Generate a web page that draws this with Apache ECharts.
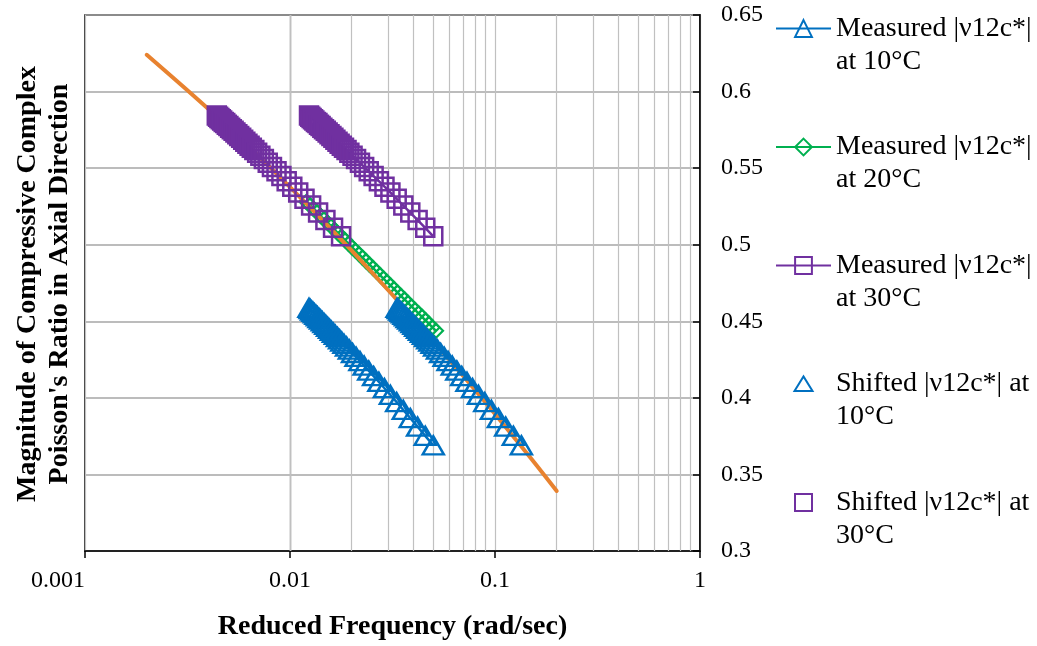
<!DOCTYPE html>
<html>
<head>
<meta charset="utf-8">
<script src="https://cdn.jsdelivr.net/npm/echarts@6/dist/echarts.min.js"></script>
<style>
html,body{margin:0;padding:0;background:#fff;}
#chart{width:1037px;height:646px;}
</style>
</head>
<body>
<div id="chart"></div>
<script>
// ---- data ----
const freqMeasured = [0.01238,0.01256,0.01275,0.01295,0.01315,0.01338,0.01361,0.01385,0.01410,0.01438,0.01465,0.01495,0.01526,0.01559,0.01592,0.01628,0.01665,0.01705,0.01746,0.01789,0.01834,0.01887,0.01948,0.02019,0.02100,0.02194,0.02300,0.02421,0.02558,0.02714,0.02890,0.03089,0.03315,0.03571,0.03862,0.04193,0.04569,0.04999];
const nuMeasured10 = [0.4587,0.4579,0.4570,0.4561,0.4552,0.4542,0.4532,0.4521,0.4511,0.4499,0.4488,0.4476,0.4464,0.4451,0.4438,0.4425,0.4411,0.4397,0.4382,0.4367,0.4352,0.4335,0.4315,0.4293,0.4268,0.4240,0.4210,0.4178,0.4142,0.4104,0.4063,0.4019,0.3972,0.3921,0.3868,0.3812,0.3752,0.3690];
const nuMeasured30 = [0.5843,0.5835,0.5828,0.5820,0.5811,0.5802,0.5794,0.5784,0.5775,0.5764,0.5754,0.5744,0.5733,0.5721,0.5710,0.5698,0.5686,0.5673,0.5660,0.5647,0.5633,0.5618,0.5600,0.5581,0.5559,0.5535,0.5508,0.5479,0.5448,0.5415,0.5379,0.5341,0.5300,0.5256,0.5210,0.5161,0.5110,0.5055];
const freqMeasured20 = [0.01203,0.01252,0.01302,0.01354,0.01408,0.01465,0.01524,0.01585,0.01648,0.01714,0.01783,0.01855,0.01929,0.02006,0.02087,0.02170,0.02257,0.02348,0.02442,0.02540,0.02642,0.02748,0.02858,0.02973,0.03092,0.03216,0.03345,0.03479,0.03619,0.03764,0.03915,0.04072,0.04235,0.04405,0.04582,0.04765,0.04956,0.05155];
const nuMeasured20 = [0.5280,0.5257,0.5235,0.5212,0.5189,0.5166,0.5144,0.5121,0.5098,0.5075,0.5052,0.5030,0.5007,0.4984,0.4961,0.4939,0.4916,0.4893,0.4870,0.4848,0.4825,0.4802,0.4779,0.4756,0.4734,0.4711,0.4688,0.4665,0.4643,0.4620,0.4597,0.4574,0.4552,0.4529,0.4506,0.4483,0.4460,0.4438];
const freqShifted10 = [0.03330,0.03379,0.03430,0.03484,0.03537,0.03599,0.03661,0.03726,0.03793,0.03868,0.03941,0.04022,0.04105,0.04194,0.04282,0.04379,0.04479,0.04586,0.04697,0.04812,0.04933,0.05076,0.05240,0.05431,0.05649,0.05902,0.06187,0.06512,0.06881,0.07301,0.07774,0.08309,0.08917,0.09606,0.10389,0.11279,0.12291,0.13447];
const nuShifted10 = [0.4587,0.4579,0.4570,0.4561,0.4552,0.4542,0.4532,0.4521,0.4511,0.4499,0.4488,0.4476,0.4464,0.4451,0.4438,0.4425,0.4411,0.4397,0.4382,0.4367,0.4352,0.4335,0.4315,0.4293,0.4268,0.4240,0.4210,0.4178,0.4142,0.4104,0.4063,0.4019,0.3972,0.3921,0.3868,0.3812,0.3752,0.3690];
const freqShifted30 = [0.004395,0.004459,0.004526,0.004597,0.004668,0.004750,0.004832,0.004917,0.005006,0.005105,0.005201,0.005307,0.005417,0.005534,0.005652,0.005779,0.005911,0.006053,0.006198,0.006351,0.006511,0.006699,0.006915,0.007167,0.007455,0.007789,0.008165,0.008595,0.009081,0.009635,0.010260,0.010966,0.011768,0.012677,0.013710,0.014885,0.016220,0.017746];
const nuShifted30 = [0.5843,0.5835,0.5828,0.5820,0.5811,0.5802,0.5794,0.5784,0.5775,0.5764,0.5754,0.5744,0.5733,0.5721,0.5710,0.5698,0.5686,0.5673,0.5660,0.5647,0.5633,0.5618,0.5600,0.5581,0.5559,0.5535,0.5508,0.5479,0.5448,0.5415,0.5379,0.5341,0.5300,0.5256,0.5210,0.5161,0.5110,0.5055];
const freqFit = [0.002,0.003,0.004,0.005,0.006,0.008,0.01,0.015,0.02,0.03,0.04,0.05,0.06,0.08,0.1,0.15,0.2];
const nuFit = [0.6240,0.6035,0.5886,0.5765,0.5666,0.5505,0.5376,0.5136,0.4961,0.4706,0.4519,0.4371,0.4248,0.4051,0.3895,0.3604,0.3392];
const xMinorTicks = [0.002,0.003,0.004,0.005,0.006,0.007,0.008,0.009,0.02,0.03,0.04,0.05,0.06,0.07,0.08,0.09,0.2,0.3,0.4,0.5,0.6,0.7,0.8,0.9];
const xTickLabels = ['0.001','0.01','0.1','1'];
const seriesNames = ['Measured |ν12c*| at 10°C','Measured |ν12c*| at 20°C','Measured |ν12c*| at 30°C','Shifted |ν12c*| at 10°C','Shifted |ν12c*| at 30°C'];
const legendLabels = ['Measured |ν12c*|\nat 10°C','Measured |ν12c*|\nat 20°C','Measured |ν12c*|\nat 30°C','Shifted |ν12c*| at\n10°C','Shifted |ν12c*| at\n30°C'];
const xTitle = 'Reduced Frequency (rad/sec)';
const yTitle = "Magnitude of Compressive Complex\nPoisson's Ratio in Axial Direction";

const zip = (a, b) => a.map((v, i) => [v, b[i]]);
const FONT = '"Liberation Serif","Times New Roman",serif';
const BLUE = '#0070C0', GREEN = '#00B050', PURPLE = '#7030A0', ORANGE = '#E8822F';
const NOFILL = 'rgba(255,255,255,0)';
// legend icons for the marker-only series (padded so they keep a small size)
const ICON_TRI = 'path://M0,0L0,0M1.5,17.5L10.5,3L19.5,17.5ZM21,21L21,21';
const ICON_SQ = 'path://M0,0L0,0M2,2L19,2L19,19L2,19ZM21,21L21,21';

const chart = echarts.init(document.getElementById('chart'), null, {renderer: 'canvas'});
const option = {
  animation: false,
  backgroundColor: '#fff',
  grid: {left: 85, right: 337, top: 15, bottom: 93, show: true, borderColor: '#000', borderWidth: 1.5, backgroundColor: 'transparent'},
  xAxis: {
    type: 'log', logBase: 10, min: 0.001, max: 1,
    name: xTitle, nameLocation: 'middle', nameGap: 62,
    nameTextStyle: {fontFamily: FONT, fontSize: 28, fontWeight: 'bold', color: '#000'},
    axisLine: {show: true, lineStyle: {color: '#000', width: 1.5}},
    axisTick: {show: true, inside: false, length: 7, lineStyle: {color: '#000', width: 1.5}},
    axisLabel: {margin: 18, fontFamily: FONT, fontSize: 24, color: '#000', alignMinLabel: 'right',
      formatter: v => xTickLabels[Math.round(Math.log10(v)) + 3]},
    splitLine: {show: true, lineStyle: {color: '#c0c0c0', width: 1.2}},
    minorTick: {show: false}, minorSplitLine: {show: false}
  },
  yAxis: {
    type: 'value', position: 'right', min: 0.3, max: 0.65, interval: 0.05,
    axisLine: {show: true, lineStyle: {color: '#000', width: 1.5}},
    axisTick: {show: true, inside: true, length: 7, lineStyle: {color: '#000', width: 1.5}},
    axisLabel: {margin: 21, fontFamily: FONT, fontSize: 24, color: '#000', formatter: v => String(+v.toFixed(2))},
    splitLine: {show: true, lineStyle: {color: '#a6a6a6', width: 1.5}}
  },
  legend: {
    orient: 'vertical', left: 775, top: -21, padding: 0,
    itemWidth: 55, itemHeight: 21, itemGap: 19.5,
    symbolKeepAspect: true,
    data: [
      {name: seriesNames[0]}, {name: seriesNames[1]}, {name: seriesNames[2]},
      {name: seriesNames[3], icon: ICON_TRI}, {name: seriesNames[4], icon: ICON_SQ}
    ],
    formatter: name => '\n' + legendLabels[seriesNames.indexOf(name)],
    textStyle: {fontFamily: FONT, fontSize: 28, color: '#000', lineHeight: 33},
    selectedMode: false
  },
  graphic: [{
    type: 'text', x: 44, y: 284, rotation: Math.PI / 2,
    style: {text: yTitle, fill: '#000', font: 'bold 28px ' + FONT, align: 'center', verticalAlign: 'middle', lineHeight: 32}
  }],
  series: [
    {
      name: 'gridMinor', type: 'line', data: [], silent: true,
      markLine: {silent: true, symbol: ['none', 'none'], z: 1, label: {show: false},
        lineStyle: {color: '#c0c0c0', type: 'solid', width: 1.2},
        emphasis: {disabled: true},
        data: xMinorTicks.map(v => ({xAxis: v}))}
    },
    {
      name: seriesNames[0], type: 'line', data: zip(freqMeasured, nuMeasured10),
      symbol: 'triangle', symbolSize: [21, 18], showSymbol: true,
      lineStyle: {color: BLUE, width: 2.5},
      itemStyle: {color: NOFILL, borderColor: BLUE, borderWidth: 2.5}, z: 2
    },
    {
      name: seriesNames[1], type: 'line', data: zip(freqMeasured20, nuMeasured20),
      symbol: 'diamond', symbolSize: 14, showSymbol: true,
      lineStyle: {color: GREEN, width: 2.5},
      itemStyle: {color: NOFILL, borderColor: GREEN, borderWidth: 2.2}, z: 3
    },
    {
      name: 'fit', type: 'line', data: zip(freqFit, nuFit), showSymbol: false, smooth: 0.4,
      lineStyle: {color: ORANGE, width: 4, cap: 'round'}, z: 4
    },
    {
      name: seriesNames[2], type: 'line', data: zip(freqMeasured, nuMeasured30),
      symbol: 'rect', symbolSize: 18, showSymbol: true,
      lineStyle: {color: PURPLE, width: 2.5},
      itemStyle: {color: NOFILL, borderColor: PURPLE, borderWidth: 2.5}, z: 5
    },
    {
      name: seriesNames[3], type: 'scatter', data: zip(freqShifted10, nuShifted10),
      symbol: 'triangle', symbolSize: [21, 18],
      itemStyle: {color: NOFILL, borderColor: BLUE, borderWidth: 2.5, opacity: 1}, z: 6
    },
    {
      name: seriesNames[4], type: 'scatter', data: zip(freqShifted30, nuShifted30),
      symbol: 'rect', symbolSize: 18,
      itemStyle: {color: NOFILL, borderColor: PURPLE, borderWidth: 2.5, opacity: 1}, z: 7
    }
  ]
};
chart.setOption(option);
</script>
</body>
</html>
